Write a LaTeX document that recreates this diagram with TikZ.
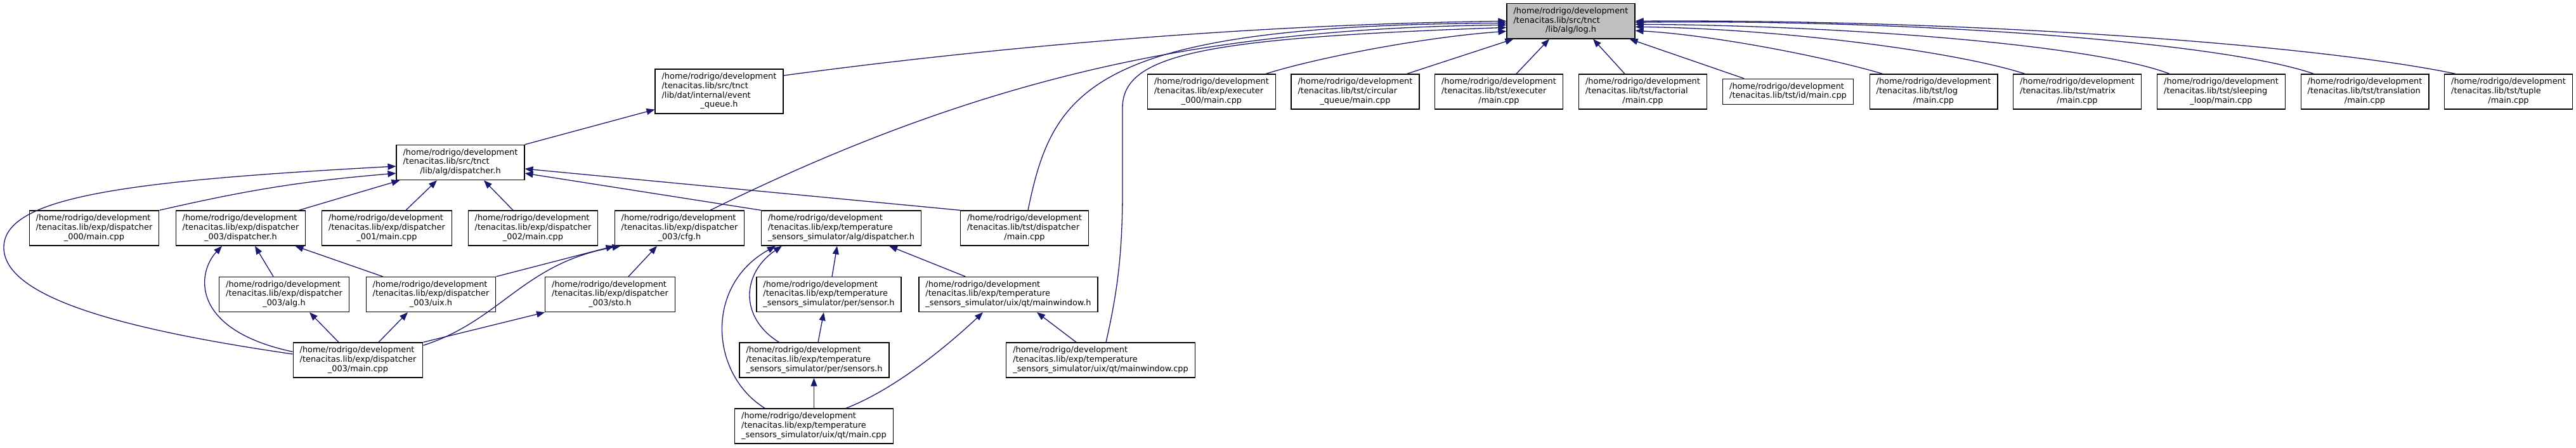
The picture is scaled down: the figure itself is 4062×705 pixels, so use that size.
\documentclass[tikz,border=0pt]{standalone}
\usepackage{fontspec}
\setmainfont{DejaVu Sans}
\usetikzlibrary{arrows.meta}

\definecolor{edgeblue}{HTML}{191970}
\definecolor{rootgray}{HTML}{BFBFBF}

% left-aligned lines, last line centred (doxygen label layout)
\newcommand{\fname}[2]{\begin{tabular}{@{}l@{}}#1\\\multicolumn{1}{@{}c@{}}{#2}\end{tabular}}
\newcommand{\homedir}{/home/rodrigo/development}
\newcommand{\tenlib}{/tenacitas.lib}

\tikzset{
  filebox/.style={draw=black, line width=1.3pt, fill=white, inner xsep=10.5pt, inner ysep=5.5pt,
    font=\fontsize{12.9}{14.7}\selectfont},
  rootbox/.style={filebox, fill=rootgray},
  incl/.style={draw=edgeblue, line width=1.3pt, -{Triangle[length=13pt,width=10pt]}},
}

\begin{document}
\begin{tikzpicture}[x=1pt, y=-1pt]
  \useasboundingbox (0,0) rectangle (4062,705);

  % root header
  \node[rootbox] (logh) at (2477,33.3) {\fname{\homedir\\\tenlib/src/tnct}{/lib/alg/log.h}};

  % second row
  \node[filebox] (eventq) at (1134,144) {\fname{\homedir\\\tenlib/src/tnct\\/lib/dat/internal/event}{\_queue.h}};
  \node[filebox] (exec000) at (1910.5,144.5) {\fname{\homedir\\\tenlib/exp/executer}{\_000/main.cpp}};
  \node[filebox] (circq) at (2137,144.5) {\fname{\homedir\\\tenlib/tst/circular}{\_queue/main.cpp}};
  \foreach \n/\x/\d in {tstexec/2363.5/executer, fact/2590.5/factorial, tstlog/3049/log,
      matrix/3275.5/matrix, transl/3729/translation, tuple/3955.5/tuple}
    \node[filebox] (\n) at (\x,144.5) {\fname{\homedir\\\tenlib/tst/\d}{/main.cpp}};
  \node[filebox] (tstid) at (2819.5,144.5) {\fname{\homedir}{\tenlib/tst/id/main.cpp}};
  \node[filebox] (sleep) at (3502.5,144.5) {\fname{\homedir\\\tenlib/tst/sleeping}{\_loop/main.cpp}};

  % dispatcher
  \node[filebox] (algdisp) at (726,256) {\fname{\homedir\\\tenlib/src/tnct}{/lib/alg/dispatcher.h}};

  % third row
  \node[filebox] (disp000) at (148.5,359.5) {\fname{\homedir\\\tenlib/exp/dispatcher}{\_000/main.cpp}};
  \node[filebox] (disp003h) at (379.5,359.5) {\fname{\homedir\\\tenlib/exp/dispatcher}{\_003/dispatcher.h}};
  \node[filebox] (disp001) at (610,359.5) {\fname{\homedir\\\tenlib/exp/dispatcher}{\_001/main.cpp}};
  \node[filebox] (disp002) at (840.5,359.5) {\fname{\homedir\\\tenlib/exp/dispatcher}{\_002/main.cpp}};
  \node[filebox] (cfgh) at (1071.5,359.5) {\fname{\homedir\\\tenlib/exp/dispatcher}{\_003/cfg.h}};
  \node[filebox] (tempdisp) at (1326.5,359.5) {\fname{\homedir\\\tenlib/exp/temperature}{\_sensors\_simulator/alg/dispatcher.h}};
  \node[filebox] (tstdisp) at (1615.5,359.5) {\fname{\homedir\\\tenlib/tst/dispatcher}{/main.cpp}};

  % fourth row
  \node[filebox] (alg003) at (448,464) {\fname{\homedir\\\tenlib/exp/dispatcher}{\_003/alg.h}};
  \node[filebox] (uix003) at (679.5,464) {\fname{\homedir\\\tenlib/exp/dispatcher}{\_003/uix.h}};
  \node[filebox] (sto003) at (962,464) {\fname{\homedir\\\tenlib/exp/dispatcher}{\_003/sto.h}};
  \node[filebox] (sensorh) at (1307,464) {\fname{\homedir\\\tenlib/exp/temperature}{\_sensors\_simulator/per/sensor.h}};
  \node[filebox] (mainwinh) at (1590,464) {\fname{\homedir\\\tenlib/exp/temperature}{\_sensors\_simulator/uix/qt/mainwindow.h}};

  % fifth and sixth rows
  \node[filebox] (main003) at (564.5,567.5) {\fname{\homedir\\\tenlib/exp/dispatcher}{\_003/main.cpp}};
  \node[filebox] (sensorsh) at (1284,567.5) {\fname{\homedir\\\tenlib/exp/temperature}{\_sensors\_simulator/per/sensors.h}};
  \node[filebox] (mainwincpp) at (1735.5,567.5) {\fname{\homedir\\\tenlib/exp/temperature}{\_sensors\_simulator/uix/qt/mainwindow.cpp}};
  \node[filebox] (qtmain) at (1283.5,671.5) {\fname{\homedir\\\tenlib/exp/temperature}{\_sensors\_simulator/uix/qt/main.cpp}};

  % into log.h, from the left
  \draw[incl] ([yshift=25pt]eventq.east) .. controls (1600,70) and (2000,38) .. (logh.west);
  \draw[incl] ([xshift=5.5pt]tstdisp.north) .. controls (1660,140) and (1720,40) .. ([yshift=-3pt]logh.west);
  \draw[incl] ([xshift=48.5pt]cfgh.north) .. controls (1550,120) and (1900,45) .. ([yshift=-6pt]logh.west);
  \draw[incl] ([xshift=8.5pt]mainwincpp.north) .. controls (1762,460) and (1770,400) .. (1770,300)
    -- (1770,170) .. controls (1770,85) and (1900,60) .. ([yshift=-10pt]logh.west);
  \draw[incl] ([xshift=-16pt]exec000.north east) .. controls (2080,90) and (2250,58) .. ([yshift=-16pt]logh.west);
  % into log.h, from below
  \draw[incl] ([xshift=-20pt]circq.north east) -- ([xshift=11pt]logh.south west);
  \draw[incl] ([xshift=27.5pt]tstexec.north) -- ([xshift=-34pt]logh.south);
  \draw[incl] ([xshift=-28.5pt]fact.north) -- ([xshift=35pt]logh.south);
  \draw[incl] ([xshift=34pt]tstid.north west) -- ([xshift=-9pt]logh.south east);
  % into log.h, from the right
  \draw[incl] ([xshift=21pt]tstlog.north west) .. controls (2880,90) and (2700,55) .. ([yshift=-15pt]logh.east);
  \draw[incl] ([xshift=19pt]matrix.north west) .. controls (3080,80) and (2800,45) .. ([yshift=-9pt]logh.east);
  \draw[incl] ([xshift=20pt]sleep.north west) .. controls (3300,70) and (2900,40) .. ([yshift=-5pt]logh.east);
  \draw[incl] ([xshift=21pt]transl.north west) .. controls (3500,65) and (3000,30) .. ([yshift=-2pt]logh.east);
  \draw[incl] ([xshift=18pt]tuple.north west) .. controls (3650,70) and (3100,30) .. (logh.east);

  % lib/alg/dispatcher.h
  \draw[incl] (algdisp.north east) -- ([yshift=7pt]eventq.south west);
  \draw[incl] ([yshift=9.5pt]main003.west) .. controls (200,520) and (6,470) .. (6,390)
    .. controls (6,310) and (200,285) .. ([yshift=-6pt]algdisp.west);
  \draw[incl] (disp000.north east) to[bend left=4] ([yshift=-17pt]algdisp.west);
  \draw[incl] ([xshift=-11pt]disp003h.north east) -- ([xshift=6pt]algdisp.south west);
  \draw[incl] ([xshift=30pt]disp001.north) -- ([xshift=-37pt]algdisp.south);
  \draw[incl] ([xshift=-31.5pt]disp002.north) -- ([xshift=37pt]algdisp.south);
  \draw[incl] (tempdisp.north west) -- ([yshift=-17pt]algdisp.east);
  \draw[incl] (tstdisp.north west) -- ([yshift=-10pt]algdisp.east);

  % dispatcher_003
  \draw[incl] ([yshift=-15pt]main003.north west) .. controls (300,520) and (310,430) .. ([xshift=-29.5pt]disp003h.south);
  \draw[incl] ([xshift=-17pt]alg003.north) -- ([xshift=22.5pt]disp003h.south);
  \draw[incl] ([xshift=27pt]uix003.north west) -- ([xshift=-17pt]disp003h.south east);
  \draw[incl] (uix003.north east) -- (cfgh.south west);
  \draw[incl] ([yshift=-5pt]main003.north east) .. controls (790,505) and (825,415) .. ([xshift=10pt]cfgh.south west);
  \draw[incl] ([xshift=29pt]sto003.north) -- ([xshift=-35.5pt]cfgh.south);
  \draw[incl] ([xshift=-30.5pt]main003.north) -- ([xshift=40pt]alg003.south);
  \draw[incl] ([xshift=32.5pt]main003.north) -- ([xshift=-36.5pt]uix003.south);
  \draw[incl] (main003.north east) -- (sto003.south west);

  % temperature_sensors_simulator
  \draw[incl] ([xshift=48pt]qtmain.north west) .. controls (1120,590) and (1110,450) .. ([xshift=23pt]tempdisp.south west);
  \draw[incl] ([xshift=63pt]sensorsh.north west) .. controls (1165,500) and (1170,430) .. ([xshift=33pt]tempdisp.south west);
  \draw[incl] ([xshift=5pt]sensorh.north) -- ([xshift=-6.5pt]tempdisp.south);
  \draw[incl] ([xshift=74pt]mainwinh.north west) -- ([xshift=-51pt]tempdisp.south east);
  \draw[incl] ([xshift=6pt]sensorsh.north) -- ([xshift=-8pt]sensorh.south);
  \draw[incl] (qtmain.north) -- (qtmain.north |- sensorsh.south);
  \draw[incl] ([xshift=50.5pt]qtmain.north) .. controls (1420,610) and (1510,530) .. ([xshift=-40pt]mainwinh.south);
  \draw[incl] ([xshift=-38.5pt]mainwincpp.north) -- ([xshift=45pt]mainwinh.south);
\end{tikzpicture}
\end{document}
